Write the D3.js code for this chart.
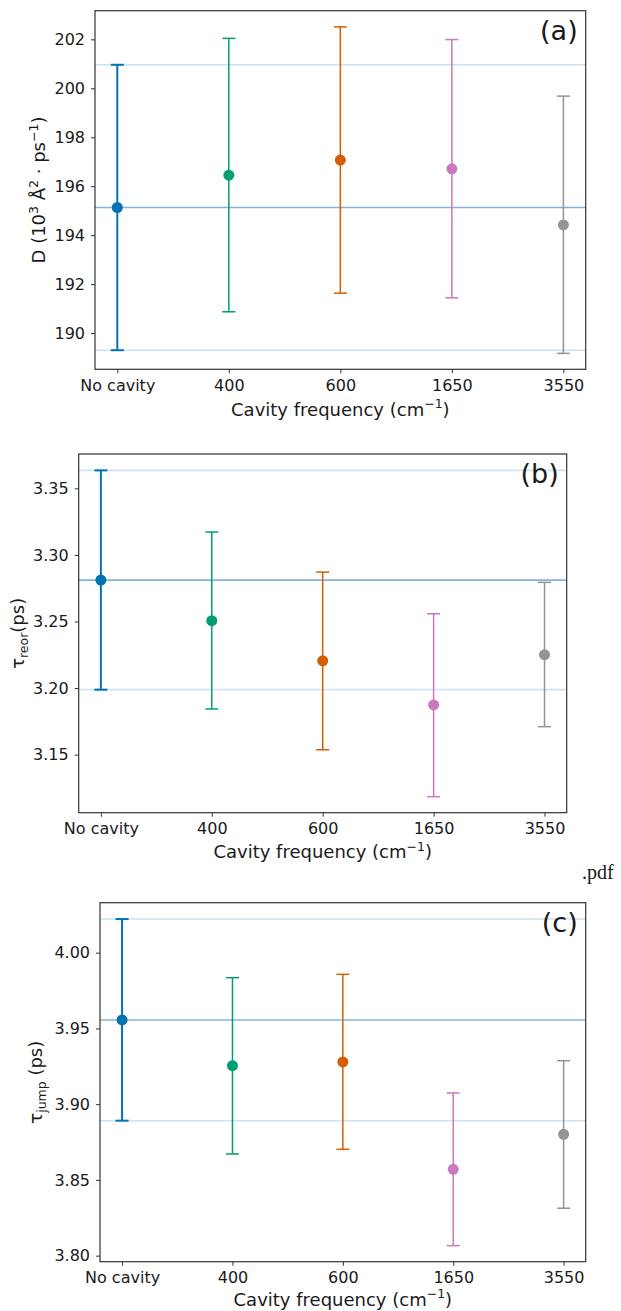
<!DOCTYPE html>
<html><head><meta charset="utf-8">
<script src="https://cdn.jsdelivr.net/npm/d3@7"></script>
<style>body{margin:0;background:#fff}svg{display:block}text{font-family:"DejaVu Sans",sans-serif;fill:#1a1a1a}</style>
</head><body>
<svg id="c" width="621" height="1311"></svg>
<script>
const categories = ["No cavity","400","600","1650","3550"];
const colors = ["#0173b2","#029e73","#d55e00","#cc78bc","#949494"];

const dMean = [195.13,196.45,197.07,196.71,194.42];
const dLow  = [189.30,190.87,191.63,191.44,189.17];
const dHigh = [200.96,202.04,202.51,201.99,199.68];
const dTicks = [190,192,194,196,198,200,202];

const reorMean = [3.2811,3.2506,3.2205,3.1873,3.2251];
const reorLow  = [3.1988,3.1843,3.1537,3.1184,3.1710];
const reorHigh = [3.3635,3.3172,3.2871,3.2558,3.2794];
const reorTicks = [3.15,3.20,3.25,3.30,3.35];

const jumpMean = [3.9556,3.9254,3.9279,3.8570,3.8801];
const jumpLow  = [3.8891,3.8671,3.8702,3.8066,3.8313];
const jumpHigh = [4.0222,3.9835,3.9857,3.9074,3.9287];
const jumpTicks = [3.80,3.85,3.90,3.95,4.00];

const svg = d3.select("#c");
const LF = 18, SF = 12.5;

function panel(o){
  const g = svg.append("g");
  const x = d3.scalePoint().domain(categories).range([o.left, o.right]).padding(0.2);
  const y = d3.scaleLinear().domain(o.domain).range([o.bottom, o.top]);
  const ref = [[o.low[0],"#cfe2ef"],[o.high[0],"#cfe2ef"],[o.mean[0],"#82b5d8"]];
  ref.forEach(r=>{
    g.append("line").attr("x1",o.left).attr("x2",o.right).attr("y1",y(r[0])).attr("y2",y(r[0]))
     .attr("stroke",r[1]).attr("stroke-width",1.6);
  });
  categories.forEach((c,i)=>{
    const cx = x(c), col = colors[i], sw = i===0?2:1.5;
    g.append("line").attr("x1",cx).attr("x2",cx).attr("y1",y(o.low[i])).attr("y2",y(o.high[i])).attr("stroke",col).attr("stroke-width",sw);
    [o.low[i],o.high[i]].forEach(v=>{
      g.append("line").attr("x1",cx-6.5).attr("x2",cx+6.5).attr("y1",y(v)).attr("y2",y(v)).attr("stroke",col).attr("stroke-width",sw);
    });
    g.append("circle").attr("cx",cx).attr("cy",y(o.mean[i])).attr("r",5.5).attr("fill",col);
  });
  g.append("rect").attr("x",o.left).attr("y",o.top).attr("width",o.right-o.left).attr("height",o.bottom-o.top)
   .attr("fill","none").attr("stroke","#333").attr("stroke-width",1.2);
  const ya = d3.axisLeft(y).tickValues(o.ticks).tickFormat(o.fmt).tickSize(4).tickPadding(6);
  const yg = g.append("g").attr("transform",`translate(${o.left},0)`).call(ya);
  const xa = d3.axisBottom(x).tickSize(4).tickPadding(6);
  const xg = g.append("g").attr("transform",`translate(0,${o.bottom})`).call(xa);
  [yg,xg].forEach(a=>{
    a.select(".domain").remove();
    a.selectAll(".tick line").attr("stroke","#333").attr("stroke-width",1);
    a.selectAll(".tick text").attr("font-size",16).attr("fill","#1a1a1a").style("font-family","DejaVu Sans");
  });
  const xl = g.append("text").attr("x",(o.left+o.right)/2).attr("y",o.bottom+o.xly).attr("text-anchor","middle").attr("font-size",LF);
  xl.append("tspan").text("Cavity frequency (cm");
  xl.append("tspan").attr("dy",-7.5).attr("font-size",SF).text("\u22121");
  xl.append("tspan").attr("dy",7.5).text(")");
  const yl = g.append("text").attr("transform",`translate(${o.ylx},${(o.top+o.bottom)/2}) rotate(-90)`).attr("text-anchor","middle").attr("font-size",LF);
  o.ylab(yl);
  g.append("text").attr("x",o.right-8).attr("y",o.top+29).attr("text-anchor","end").attr("font-size",27).text(o.letter);
}

panel({left:95,right:585.7,top:10.7,bottom:369.3,domain:[188.52,203.17],ticks:dTicks,fmt:d3.format("d"),
  mean:dMean,low:dLow,high:dHigh,letter:"(a)",ylx:45,xly:46.5,
  ylab:t=>{
    t.append("tspan").text("D (10");
    t.append("tspan").attr("dy",-7.5).attr("font-size",SF).text("3");
    t.append("tspan").attr("dy",7.5).text(" \u00c5");
    t.append("tspan").attr("dy",-7.5).attr("font-size",SF).text("2");
    t.append("tspan").attr("dy",7.5).text(" \u00b7 ps");
    t.append("tspan").attr("dy",-7.5).attr("font-size",SF).text("\u22121");
    t.append("tspan").attr("dy",7.5).text(")");
  }});

panel({left:78.7,right:566.7,top:454,bottom:812.7,domain:[3.1064,3.3758],ticks:reorTicks,fmt:d3.format(".2f"),
  mean:reorMean,low:reorLow,high:reorHigh,letter:"(b)",ylx:24,xly:45.5,
  ylab:t=>{
    t.append("tspan").text("\u03c4");
    t.append("tspan").attr("dy",4).attr("font-size",SF).text("reor");
    t.append("tspan").attr("dy",-4).text("(ps)");
  }});

panel({left:100,right:585.7,top:902.7,bottom:1261.7,domain:[3.796,4.033],ticks:jumpTicks,fmt:d3.format(".2f"),
  mean:jumpMean,low:jumpLow,high:jumpHigh,letter:"(c)",ylx:42,xly:44,
  ylab:t=>{
    t.append("tspan").text("\u03c4");
    t.append("tspan").attr("dy",4).attr("font-size",SF).text("jump");
    t.append("tspan").attr("dy",-4).text(" (ps)");
  }});

svg.append("text").attr("x",582).attr("y",879).attr("font-size",20)
  .style("font-family","'Liberation Serif',serif").text(".pdf");
</script>
</body></html>
